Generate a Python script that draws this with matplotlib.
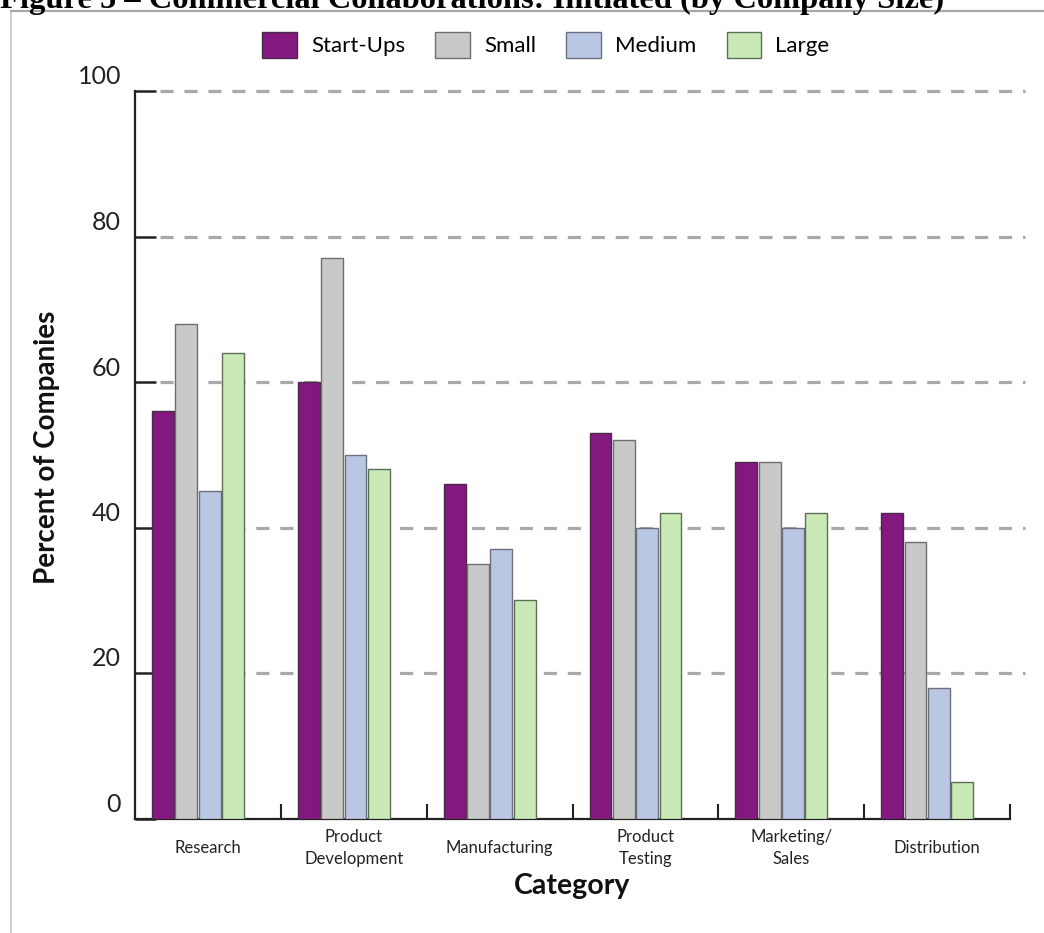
import matplotlib
matplotlib.use("Agg")
import matplotlib.pyplot as plt
import matplotlib.transforms as mtransforms
from matplotlib.lines import Line2D
import numpy as np

categories = ["Research", "Product\nDevelopment", "Manufacturing", "Product\nTesting", "Marketing/\nSales", "Distribution"]
series_names = ["Start-Ups", "Small", "Medium", "Large"]
start_ups = [56, 60, 46, 53, 49, 42]
small = [68, 77, 35, 52, 49, 38]
medium = [45, 50, 37, 40, 40, 18]
large = [64, 48, 30, 42, 42, 5]
yticks = [0, 20, 40, 60, 80, 100]
title = "Figure 5 \u2013 Commercial Collaborations: Initiated (by Company Size)"

colors = ["#83197f", "#c9c9c9", "#bac7e3", "#c9eab7"]
edges = ["#4a2a48", "#6e6e6e", "#6e7080", "#5e6e58"]

plt.rcParams['font.family'] = ['Lato', 'DejaVu Sans']

fig = plt.figure(figsize=(10.44, 9.33), dpi=100)
ax = fig.add_axes([135/1044, 1-818.5/933, 875/1044, 727.5/933])

series = [start_ups, small, medium, large]
n = len(categories)
x = np.arange(n)
bw = 0.15
pitch = 0.16
handles = []
for j, vals in enumerate(series):
    b = ax.bar(x + 0.192 + j*pitch, vals, width=bw, color=colors[j],
               edgecolor=edges[j], linewidth=1.0, label=series_names[j], zorder=3)
    handles.append(b)

ax.set_xlim(0, n)
ax.set_ylim(0, 100)

# dashed grid
for yv in yticks[1:]:
    ax.plot([0.028, 1.017], [yv, yv], transform=ax.get_yaxis_transform(),
            color="#a9a9a9", lw=2.3, dashes=(4.1, 3.4), clip_on=False, zorder=1)

for s in ["top", "right"]:
    ax.spines[s].set_visible(False)
for s in ["left", "bottom"]:
    ax.spines[s].set_linewidth(1.6)
    ax.spines[s].set_color("#222222")

ax.set_yticks(yticks)
ax.set_yticklabels([str(v) for v in yticks], fontsize=18, color="#222222")
ax.tick_params(axis="y", direction="in", length=15, width=1.8, color="#222222", pad=10)
offset = mtransforms.ScaledTranslation(0, 16/100, fig.dpi_scale_trans)
for lab in ax.get_yticklabels():
    lab.set_transform(lab.get_transform() + offset)

ax.set_xticks(np.arange(1, n+1))
ax.set_xticklabels([])
ax.tick_params(axis="x", direction="in", length=11, width=1.5, color="#222222")
ax.set_xticks(x + 0.5, minor=True)
ax.set_xticklabels(categories, minor=True, fontsize=12, color="#222222", linespacing=1.45)
ax.tick_params(axis="x", which="minor", length=0, pad=21)
for lab in ax.get_xticklabels(minor=True):
    lab.set_verticalalignment("center")

ax.set_xlabel("Category", fontsize=20.5, fontweight="bold", color="#111111")
ax.xaxis.set_label_coords(0.5, -0.075)
ax.set_ylabel("Percent of Companies", fontsize=20, fontweight="bold", color="#111111")
ax.yaxis.set_label_coords(-0.086, 0.51)

fig.legend(handles=handles, labels=series_names, loc="center", bbox_to_anchor=(546/1044, 1-45/933),
           ncol=4, frameon=False, fontsize=16, handlelength=1.55, handleheight=1.4,
           columnspacing=1.35, handletextpad=0.65)

# frame lines
fig.add_artist(Line2D([11/1044, 11/1044], [0, 1-11/933], transform=fig.transFigure, color="#c4c4c4", lw=1.2))
fig.add_artist(Line2D([11/1044, 1], [1-11/933, 1-11/933], transform=fig.transFigure, color="#a8a8a8", lw=1.6))

fig.text(0.0, 1-8/933, title, fontsize=23.4, fontweight="bold", family=["Liberation Serif"],
         ha="left", va="baseline", color="#000000")

fig.savefig("out.png", dpi=100)
